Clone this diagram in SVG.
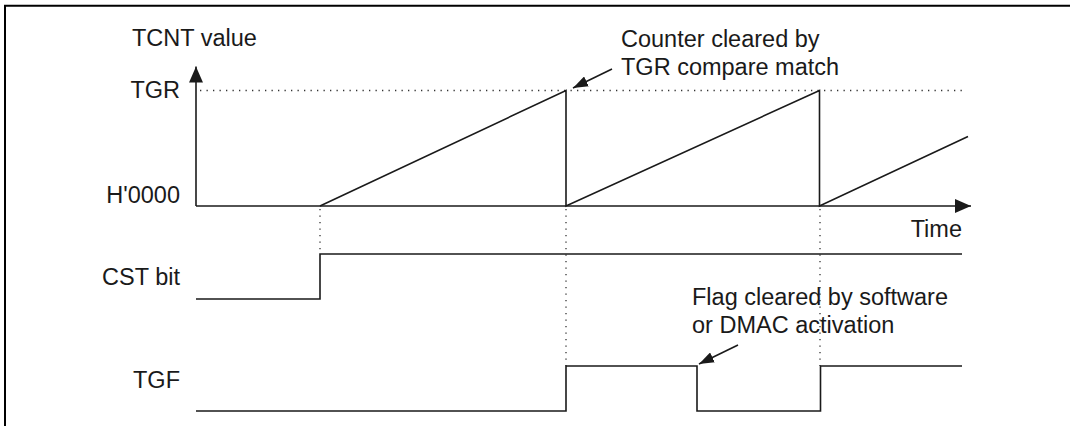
<svg xmlns="http://www.w3.org/2000/svg" width="1070" height="426" viewBox="0 0 1070 426">
<style>
text{font-family:"Liberation Sans",Arial,sans-serif;font-size:23.5px;fill:#1a1a1a}
.lbl{text-anchor:end}
.ln{fill:none;stroke:#1a1a1a;stroke-width:1.6}
.dot{fill:none;stroke:#333;stroke-width:1.3;stroke-dasharray:1.3 5.2}
</style>
<defs>
<marker id="axh" viewBox="0 0 16 14" refX="16" refY="7" markerWidth="16" markerHeight="14" markerUnits="userSpaceOnUse" orient="auto"><path d="M0,0 L16,7 L0,14 z" fill="#1a1a1a"/></marker>
<marker id="anh" viewBox="0 0 15 11" refX="15" refY="5.5" markerWidth="15" markerHeight="11" markerUnits="userSpaceOnUse" orient="auto"><path d="M0,0 L15,5.5 L0,11 z" fill="#1a1a1a"/></marker>
</defs>
<rect width="1070" height="426" fill="#fff"/>
<path d="M5,426 V5.7 H1070" fill="none" stroke="#000" stroke-width="2"/>

<g id="axes">
<line class="ln" x1="196" y1="206" x2="196" y2="66.5" marker-end="url(#axh)"/>
<line class="ln" x1="196" y1="206" x2="971" y2="206" marker-end="url(#axh)"/>
<text x="132" y="46">TCNT value</text>
<text class="lbl" x="180" y="98">TGR</text>
<text class="lbl" x="180" y="203">H'0000</text>
<text class="lbl" x="962" y="237">Time</text>
<line class="dot" x1="200" y1="90.5" x2="965" y2="90.5"/>
</g>

<g id="tcnt">
<path class="ln" d="M320,206 L566,90.5 V206 L819.5,90.5 V206 L968,136.5"/>
</g>

<g id="guides">
<line class="dot" x1="320" y1="209" x2="320" y2="254"/>
<line class="dot" x1="566" y1="209" x2="566" y2="366"/>
<line class="dot" x1="820" y1="209" x2="820" y2="366"/>
</g>

<g id="cst">
<text class="lbl" x="180" y="285">CST bit</text>
<path class="ln" d="M196,299 H320 V254 H962"/>
</g>

<g id="tgf">
<text class="lbl" x="180" y="388">TGF</text>
<path class="ln" d="M196,411 H566 V366 H697 V411 H820.5 V366 H962"/>
</g>

<g id="note-counter">
<text x="621" y="47">Counter cleared by</text>
<text x="621" y="75">TGR compare match</text>
</g>

<g id="note-flag">
<text x="692" y="305">Flag cleared by software</text>
<text x="692" y="333">or DMAC activation</text>
</g>

<g id="connectors">
<line class="ln" x1="612" y1="69" x2="573" y2="88" marker-end="url(#anh)"/>
<line class="ln" x1="738" y1="345" x2="699" y2="364" marker-end="url(#anh)"/>
</g>
</svg>
